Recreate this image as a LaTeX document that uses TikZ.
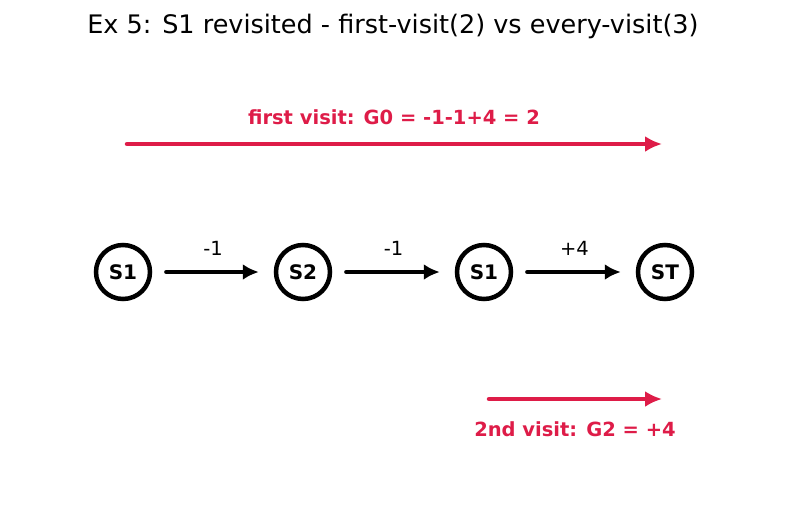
\documentclass[tikz,border=0pt]{standalone}
\usepackage{fontspec}
\setmainfont{DejaVu Sans}
\usepackage{tikz}
\usetikzlibrary{arrows.meta,calc}
\definecolor{visitred}{RGB}{222,28,72}

\begin{document}
\begin{tikzpicture}[x=1pt, y=-1pt,
  state/.style={draw, circle, line width=4.5pt, minimum size=54pt,
    inner sep=0pt, font=\fontsize{20}{24}\selectfont\bfseries},
  step arrow/.style={-{Latex[length=16pt,width=16pt]}, line width=4.2pt,
    line cap=round, shorten <=14pt, shorten >=15pt},
  reward/.style={font=\fontsize{19.5}{23}\selectfont},
  visit arrow/.style={-{Latex[length=17pt,width=16pt]}, line width=4.5pt,
    line cap=round, visitred},
  visit label/.style={visitred, font=\fontsize{19.5}{23}\selectfont\bfseries}]

  \useasboundingbox (0,0) rectangle (787,512);

  % Title
  \node[font=\fontsize{25.5}{30}\selectfont] (title) at (393,26)
    {Ex 5: S1 revisited - first-visit(2) vs every-visit(3)};

  % === Episode ===
  \node[state] (s1a) at (123,272) {S1};
  \node[state] (s2)  at (303,272) {S2};
  \node[state] (s1b) at (484,272) {S1};
  \node[state] (st)  at (665,272) {ST};

  \draw[step arrow] (s1a) -- (s2)
    node[reward, midway, above=11pt] (r1) {-1};
  \draw[step arrow] (s2) -- (s1b)
    node[reward, midway, above=11pt] (r2) {-1};
  \draw[step arrow] (s1b) -- (st)
    node[reward, midway, above=11pt] (r3) {+4};

  % === First visit return ===
  \coordinate (fa) at (127,144);
  \coordinate (fb) at (662,144);
  \draw[visit arrow] (fa) -- (fb);
  \node[visit label] (flabel) at (394,117)
    {first visit: G0 = -1-1+4 = 2};

  % === Second visit return ===
  \coordinate (sa) at (489,399);
  \coordinate (sb) at (662,399);
  \draw[visit arrow] (sa) -- (sb);
  \node[visit label] (slabel) at (575,429)
    {2nd visit: G2 = +4};

\end{tikzpicture}
\end{document}
